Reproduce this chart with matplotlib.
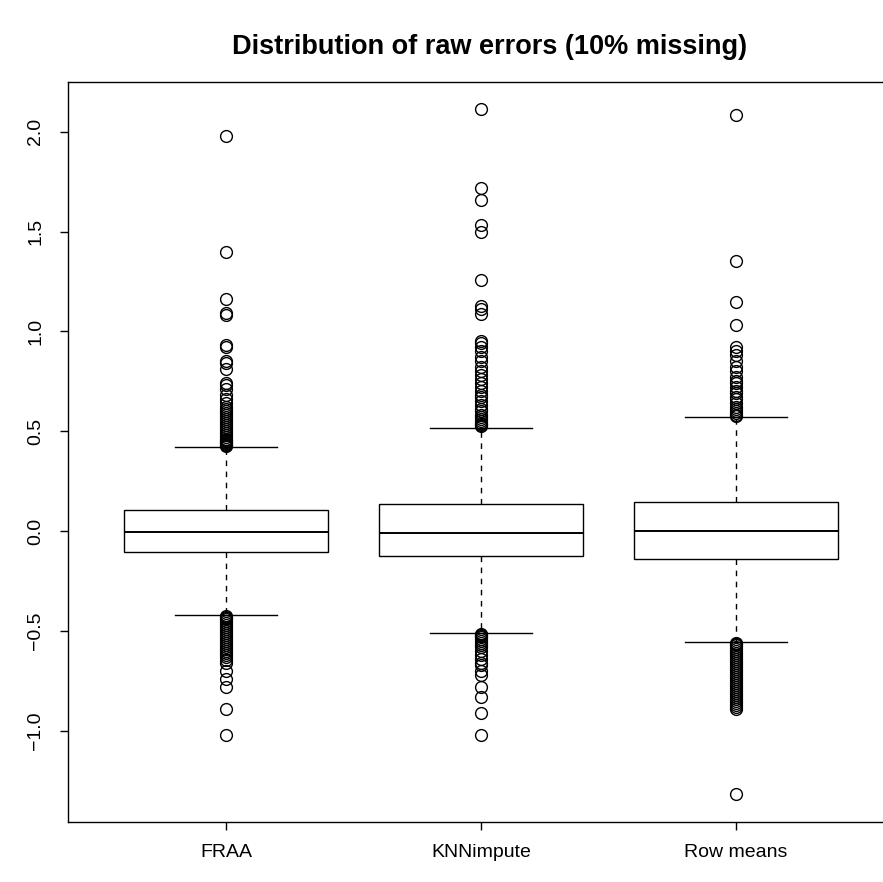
import matplotlib.pyplot as plt
import numpy as np

# Boxplot of raw imputation errors, R-style look

methods = ['FRAA', 'KNNimpute', 'Row means']
medians = [-0.003, -0.01, 0.0]
q1s = [-0.105, -0.125, -0.14]
q3s = [0.105, 0.135, 0.145]
whis_lo = [-0.42, -0.512, -0.557]
whis_hi = [0.42, 0.518, 0.572]

fraa_out = [1.98, 1.40, 1.165, 1.09, 1.08, 0.93, 0.92, 0.85, 0.84, 0.81, 0.74, 0.73,
            0.71, 0.68, 0.66, 0.64, 0.62, 0.61, 0.60, 0.59, 0.58, 0.57, 0.56, 0.55,
            0.54, 0.53, 0.52, 0.51, 0.50, 0.49, 0.48, 0.47, 0.46, 0.455, 0.45, 0.445,
            0.44, 0.435, 0.43, 0.425,
            -0.425, -0.43, -0.435, -0.44, -0.45, -0.46, -0.47, -0.48, -0.49, -0.50,
            -0.51, -0.52, -0.53, -0.54, -0.55, -0.56, -0.57, -0.58, -0.59, -0.60,
            -0.61, -0.62, -0.63, -0.645, -0.66, -0.70, -0.74, -0.78, -0.89, -1.02]
knn_out = [2.115, 1.72, 1.66, 1.535, 1.50, 1.26, 1.13, 1.11, 1.085, 0.95, 0.94, 0.92,
           0.90, 0.87, 0.85, 0.82, 0.80, 0.78, 0.76, 0.74, 0.72, 0.70, 0.68, 0.67,
           0.65, 0.63, 0.61, 0.60, 0.58, 0.57, 0.56, 0.55, 0.54, 0.535, 0.53, 0.525,
           -0.515, -0.52, -0.525, -0.53, -0.54, -0.55, -0.56, -0.57, -0.58, -0.60,
           -0.62, -0.64, -0.66, -0.67, -0.70, -0.72, -0.78, -0.83, -0.91, -1.02]
row_out = [2.085, 1.355, 1.15, 1.03, 0.92, 0.90, 0.88, 0.85, 0.82, 0.80, 0.77, 0.75,
           0.74, 0.72, 0.70, 0.69, 0.67, 0.66, 0.64, 0.62, 0.61, 0.60, 0.59, 0.58, 0.575,
           -0.56, -0.565, -0.57, -0.58, -0.59, -0.60, -0.61, -0.62, -0.63, -0.64,
           -0.65, -0.66, -0.67, -0.68, -0.69, -0.70, -0.71, -0.72, -0.73, -0.74,
           -0.75, -0.76, -0.77, -0.78, -0.79, -0.80, -0.81, -0.82, -0.83, -0.84,
           -0.85, -0.86, -0.87, -0.88, -0.89, -1.318]
outliers = [fraa_out, knn_out, row_out]

plt.rcParams['font.family'] = ['Liberation Sans', 'DejaVu Sans']

fig = plt.figure(figsize=(8.83, 8.82), dpi=100)
ax = fig.add_axes([68 / 883, 1 - 821.5 / 882, 826 / 883, 740 / 882])

stats = []
for i in range(len(methods)):
    stats.append({'med': medians[i], 'q1': q1s[i], 'q3': q3s[i],
                  'whislo': whis_lo[i], 'whishi': whis_hi[i],
                  'fliers': outliers[i], 'label': methods[i]})

ax.bxp(stats, positions=[1, 2, 3], widths=0.8, patch_artist=True,
       boxprops=dict(facecolor='white', edgecolor='black', linewidth=1.0),
       medianprops=dict(color='black', linewidth=1.4),
       whiskerprops=dict(color='black', linewidth=1.0, linestyle=(0, (4, 4))),
       capprops=dict(color='black', linewidth=1.0), capwidths=0.4,
       flierprops=dict(marker='o', markerfacecolor='none', markeredgecolor='black',
                       markersize=8.5, markeredgewidth=1.0))

all_vals = np.concatenate([np.array(o) for o in outliers])
lo, hi = all_vals.min(), all_vals.max()
pad = 0.04 * (hi - lo)
ax.set_ylim(lo - pad, hi + pad)
ax.set_xlim(0.38, 3.62)

yt = np.arange(-1.0, 2.01, 0.5)
ax.set_yticks(yt)
ax.set_yticklabels([('%.1f' % v).replace('-', '\u2212') for v in yt],
                   rotation=90, va='center')
ax.set_xticks([1, 2, 3])
ax.set_xticklabels(methods)
ax.tick_params(axis='both', labelsize=14, length=6, width=1.0, direction='out')
ax.tick_params(axis='y', pad=11)
ax.tick_params(axis='x', pad=10)
for s in ax.spines.values():
    s.set_linewidth(1.0)

fig.text(490 / 883, 1 - 47 / 882, 'Distribution of raw errors (10% missing)',
         ha='center', va='center', fontsize=19.5, fontweight='bold')

fig.savefig('out.png', dpi=100)
